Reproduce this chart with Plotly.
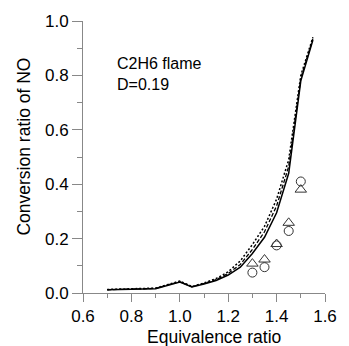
import plotly.graph_objects as go

# Model curves
x_line = [0.7, 0.8, 0.9, 1.0, 1.05, 1.1, 1.15, 1.2, 1.25, 1.3, 1.35, 1.4, 1.45, 1.5, 1.55]
y_solid = [0.012, 0.014, 0.016, 0.040, 0.022, 0.033, 0.046, 0.066, 0.095, 0.145, 0.205, 0.295, 0.44, 0.78, 0.93]
y_dash = [0.012, 0.015, 0.017, 0.042, 0.023, 0.035, 0.049, 0.072, 0.105, 0.160, 0.225, 0.320, 0.465, 0.79, 0.935]
y_dot = [0.013, 0.016, 0.018, 0.044, 0.024, 0.037, 0.053, 0.078, 0.118, 0.178, 0.245, 0.345, 0.49, 0.80, 0.94]

# Measured points
x_pts = [1.3, 1.35, 1.4, 1.45, 1.5]
y_circle = [0.075, 0.095, 0.175, 0.228, 0.41]
y_triangle = [0.108, 0.123, 0.180, 0.258, 0.38]

x_ticks = [0.6, 0.8, 1.0, 1.2, 1.4, 1.6]
y_ticks = [0.0, 0.2, 0.4, 0.6, 0.8, 1.0]

FONT = "Arial, Liberation Sans, sans-serif"

fig = go.Figure()
fig.add_trace(go.Scatter(x=x_line, y=y_solid, mode="lines",
                         line=dict(color="black", width=1.5, dash="solid")))
fig.add_trace(go.Scatter(x=x_line, y=y_dash, mode="lines",
                         line=dict(color="black", width=1.3, dash="4px,2px")))
fig.add_trace(go.Scatter(x=x_line, y=y_dot, mode="lines",
                         line=dict(color="black", width=1.5, dash="2px,2px")))
fig.add_trace(go.Scatter(x=x_pts, y=y_circle, mode="markers",
                         marker=dict(symbol="circle-open", size=9, color="#333", line=dict(width=1))))
fig.add_trace(go.Scatter(x=x_pts, y=y_triangle, mode="markers",
                         marker=dict(symbol="triangle-up-open", size=10, color="#333", line=dict(width=1))))

axis_common = dict(
    showgrid=False, zeroline=False, showline=True, linecolor="#888", linewidth=1,
    ticks="outside", tickcolor="#888", tickwidth=1,
    tickfont=dict(family=FONT, size=17, color="black"),
    ticklabeloverflow="allow",
)

fig.update_xaxes(range=[0.6, 1.6], tickvals=x_ticks, ticktext=[f"{v:.1f}" for v in x_ticks],
                 ticklen=8, minor=dict(dtick=0.1, ticks="outside", ticklen=4, tickcolor="#888"),
                 **axis_common)
fig.update_yaxes(range=[0.0, 1.0], tickvals=y_ticks, ticktext=[f"{v:.1f}" for v in y_ticks],
                 ticklen=10, minor=dict(dtick=0.1, ticks="outside", ticklen=5, tickcolor="#888"),
                 **axis_common)

fig.add_annotation(text="C2H6 flame<br>D=0.19", xref="paper", yref="paper",
                   x=(117 - 83) / 254, y=(293 - 72) / 275, xanchor="left", yanchor="middle",
                   align="left", showarrow=False,
                   font=dict(family=FONT, size=16, color="black"))
fig.add_annotation(text="Equivalence ratio", xref="paper", yref="paper",
                   x=(221 - 83) / 254, y=(293 - 337) / 275, xanchor="center", yanchor="middle",
                   showarrow=False, font=dict(family=FONT, size=17.5, color="black"))
fig.add_annotation(text="Conversion ratio of NO", xref="paper", yref="paper",
                   x=(21 - 83) / 254, y=(293 - 145) / 275, xanchor="center", yanchor="middle",
                   textangle=-90, showarrow=False, font=dict(family=FONT, size=17.5, color="black"))

fig.update_layout(
    width=349, height=346, margin=dict(l=83, r=12, t=18, b=53),
    paper_bgcolor="white", plot_bgcolor="white", showlegend=False,
)

fig.write_html("out.html")
